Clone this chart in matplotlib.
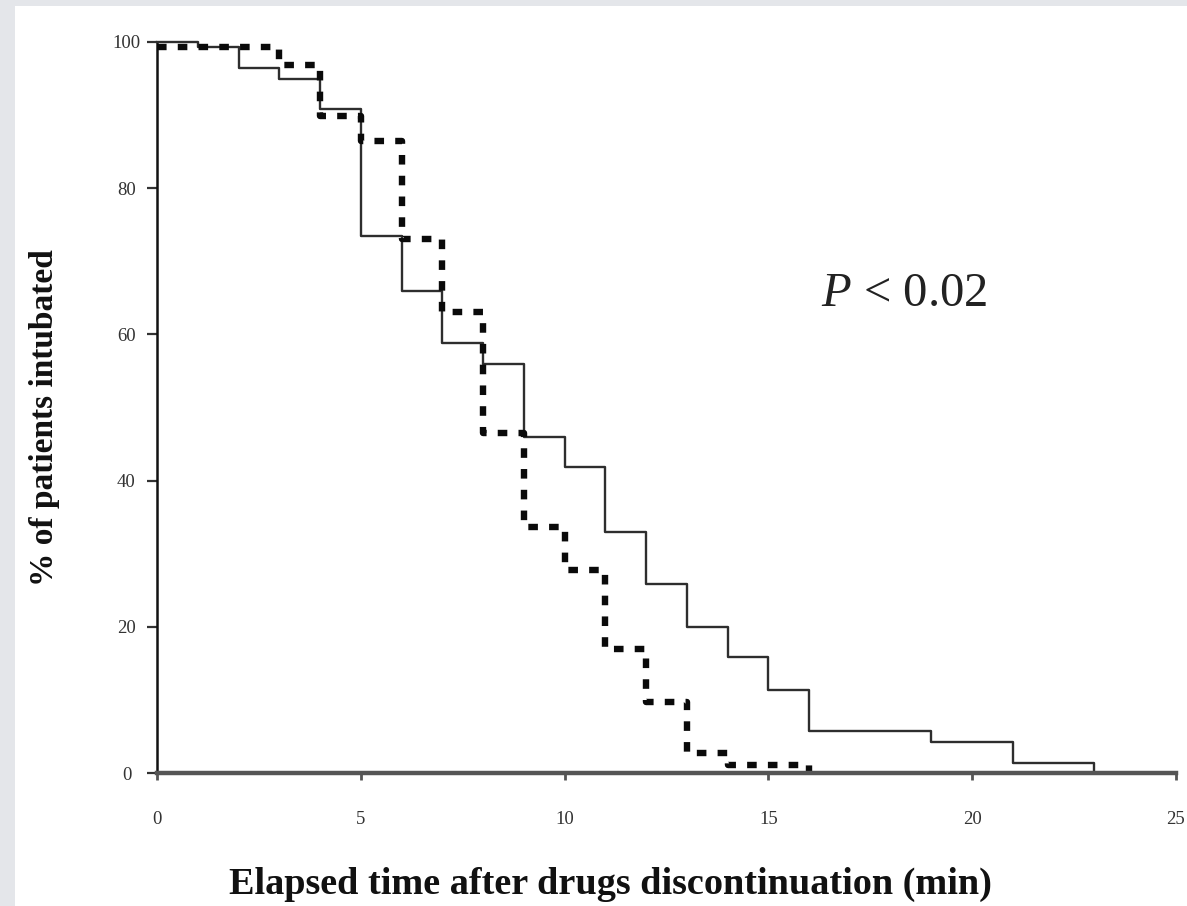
import matplotlib
matplotlib.use("Agg")
import matplotlib.pyplot as plt
from matplotlib.patches import Rectangle

# ---- data ----
solid_t = [0, 1, 2, 3, 4, 5, 6, 7, 8, 9, 10, 11, 12, 13, 14, 15, 16, 19, 21, 23]
solid_y = [100, 99.3, 96.4, 95.0, 90.9, 73.4, 66.0, 58.8, 56.0, 46.0, 41.8, 33.0,
           25.8, 20.0, 15.9, 11.4, 5.7, 4.2, 1.4, 0]
dash_t = [0, 3, 4, 5, 6, 7, 8, 9, 10, 11, 12, 13, 14, 16]
dash_y = [99.3, 96.8, 89.9, 86.5, 73.0, 63.0, 46.5, 33.7, 27.8, 17.0, 9.7, 2.7, 1.1, 0]
x_ticks = [0, 5, 10, 15, 20, 25]
y_ticks = [0, 20, 40, 60, 80, 100]
x_label = "Elapsed time after drugs discontinuation (min)"
y_label = "% of patients intubated"
annot = r"$P$ < 0.02"

plt.rcParams['font.family'] = ['Liberation Serif', 'DejaVu Serif']
plt.rcParams['mathtext.fontset'] = 'custom'
plt.rcParams['mathtext.rm'] = 'Liberation Serif'
plt.rcParams['mathtext.it'] = 'Liberation Serif:italic'

W, H = 1187, 906
fig = plt.figure(figsize=(W / 100, H / 100), dpi=100, facecolor='white')

# light grey frame of the screenshot
border = '#e4e6ea'
fig.patches.append(Rectangle((0, 1 - 6 / H), 1, 6 / H, transform=fig.transFigure,
                             facecolor=border, edgecolor='none', zorder=0))
fig.patches.append(Rectangle((0, 0), 15 / W, 1, transform=fig.transFigure,
                             facecolor=border, edgecolor='none', zorder=0))

left, right = 157 / W, 1176 / W
bottom, top = 1 - 773 / H, 1 - 42 / H
ax = fig.add_axes([left, bottom, right - left, top - bottom])
ax.set_facecolor('none')

ax.step(solid_t, solid_y, where='post', color='#2e2e2e', lw=1.7, clip_on=False, zorder=3)
ax.step(dash_t, dash_y, where='post', color='#0a0a0a', lw=4.6,
        linestyle=(0, (1.5, 1.75)), dash_capstyle='butt', clip_on=False, zorder=3)

ax.set_xlim(0, 25)
ax.set_ylim(0, 100)
ax.set_xticks(x_ticks)
ax.set_yticks(y_ticks)

for s in ['top', 'right']:
    ax.spines[s].set_visible(False)
ax.spines['left'].set_color('#111111')
ax.spines['left'].set_linewidth(1.8)
ax.spines['bottom'].set_color('#555555')
ax.spines['bottom'].set_linewidth(3.2)
ax.spines['bottom'].set_zorder(4)

ax.tick_params(axis='y', direction='out', length=7, width=1.6, color='#333333',
               pad=15, labelsize=13.5, labelcolor='#333333')
ax.tick_params(axis='x', direction='out', length=5, width=2.0, color='#555555',
               pad=22, labelsize=13.5, labelcolor='#333333')
for lab in ax.get_yticklabels():
    lab.set_horizontalalignment('center')

fig.text(45 / W, 1 - 418 / H, y_label, rotation=90, ha='center', va='center',
         fontsize=24, fontweight='bold', color='#111111')
fig.text(610 / W, 1 - 884 / H, x_label, ha='center', va='center',
         fontsize=27.5, fontweight='bold', color='#111111')
ax.text(16.3, 65.5, annot, ha='left', va='center', fontsize=35, color='#222222')

fig.savefig('out.png', dpi=100, facecolor=fig.get_facecolor())
